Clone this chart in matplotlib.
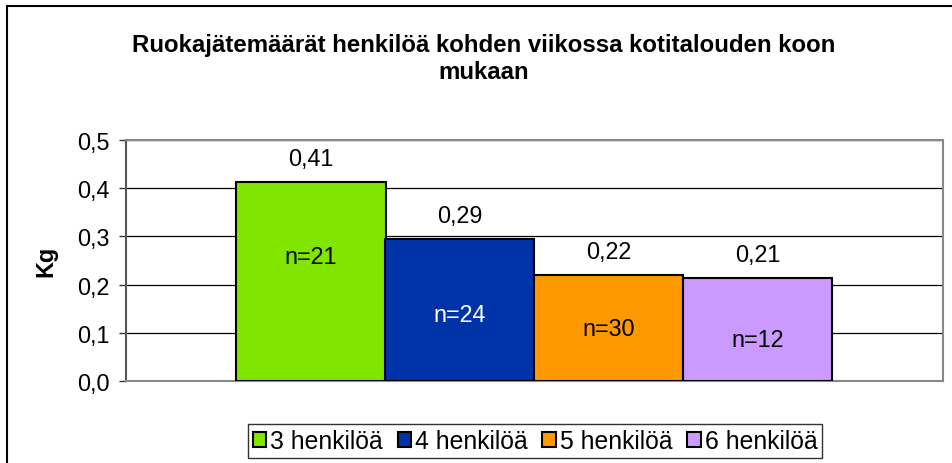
import matplotlib
matplotlib.use("Agg")
import matplotlib.pyplot as plt
from matplotlib.patches import Rectangle, Patch

plt.rcParams['font.family'] = ['Liberation Sans', 'DejaVu Sans']

categories = ["3 henkilöä", "4 henkilöä", "5 henkilöä", "6 henkilöä"]
values = [0.413, 0.294, 0.219, 0.213]
value_labels = ["0,41", "0,29", "0,22", "0,21"]
n_labels = ["n=21", "n=24", "n=30", "n=12"]
n_label_y = [0.259, 0.137, 0.108, 0.087]
n_label_colors = ["black", "white", "black", "black"]
colors = ["#80E600", "#0033A8", "#FF9900", "#CC99FF"]
yticks = [0.0, 0.1, 0.2, 0.3, 0.4, 0.5]
ytick_labels = ["0,0", "0,1", "0,2", "0,3", "0,4", "0,5"]
title = "Ruokajätemäärät henkilöä kohden viikossa kotitalouden koon\nmukaan"

W, H = 952, 464
FS = 16.8
fig = plt.figure(figsize=(W / 100, H / 100), dpi=100)
fig.patches.append(Rectangle((7 / W, -0.1), 1.2, (H - 7) / H + 0.1,
                             transform=fig.transFigure, fill=False,
                             edgecolor="black", linewidth=1.5))

ax = fig.add_axes([126 / W, (H - 382) / H, (943 - 126) / W, (382 - 141) / H])
bw = 149 / 817
for i, (v, c) in enumerate(zip(values, colors)):
    x = 0.5 + (i - 1.5) * bw
    ax.bar(x, v, width=bw, color=c, edgecolor="black", linewidth=1.5,
           label=categories[i], zorder=3)
    ax.annotate(value_labels[i], (x, v), xytext=(0, 17), textcoords="offset points",
                ha="center", va="center", fontsize=FS, zorder=4)
    ax.text(x, n_label_y[i], n_labels[i], ha="center", va="center",
            fontsize=FS, color=n_label_colors[i], zorder=4)

ax.set_xlim(0, 1)
ax.set_ylim(0, 0.5)
ax.set_yticks(yticks)
ax.set_yticklabels(ytick_labels, fontsize=FS)
ax.set_xticks([])
ax.yaxis.grid(True, color="black", linewidth=0.9, zorder=0)
for s in ["top", "right", "bottom"]:
    ax.spines[s].set_color("#888888")
    ax.spines[s].set_linewidth(1.5)
ax.spines["left"].set_color("#555555")
ax.spines["left"].set_linewidth(1.5)
ax.tick_params(axis="y", length=5, width=1, color="#333333", pad=7)
ax.set_ylabel("Kg", fontsize=FS, fontweight="bold", labelpad=14)

fig.text(484 / W, 1 - 59 / H, title, ha="center", va="center",
         fontsize=17.3, fontweight="bold", linespacing=1.2)

handles = [Patch(facecolor=c, edgecolor="black", linewidth=1.5) for c in colors]
leg = fig.legend(handles, categories, loc="center", bbox_to_anchor=(535 / W, 1 - 442 / H),
                 ncol=4, fontsize=17.8, frameon=True, fancybox=False,
                 handlelength=0.55, handleheight=0.55, handletextpad=0.15,
                 columnspacing=0.6, borderpad=0.2, borderaxespad=0)
leg.get_frame().set_edgecolor("black")
leg.get_frame().set_linewidth(1)

fig.savefig("out.png", dpi=100)
